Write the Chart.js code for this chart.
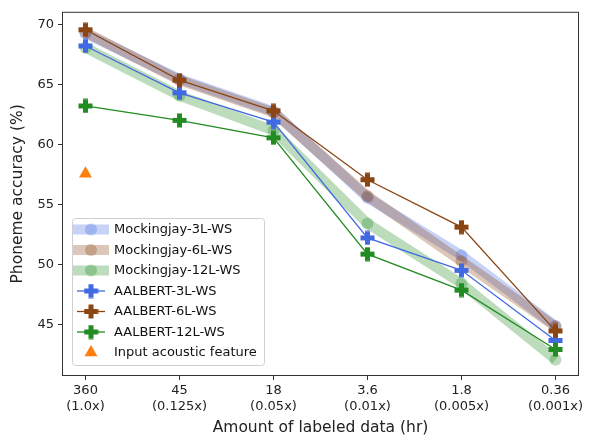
<!DOCTYPE html>
<html>
<head>
<meta charset="utf-8">
<script src="https://cdn.jsdelivr.net/npm/chart.js@4/dist/chart.umd.min.js"></script>
<style>
  html, body { margin: 0; padding: 0; background: #fff; }
  #wrap { width: 598px; height: 440px; }
</style>
</head>
<body>
<div id="wrap"><canvas id="accChart" width="598" height="440"></canvas></div>
<script>
// tick labels of the x axis
const hours = ['360', '45', '18', '3.6', '1.8', '0.36'];
const ratios = ['(1.0x)', '(0.125x)', '(0.05x)', '(0.01x)', '(0.005x)', '(0.001x)'];
const yTicks = [45, 50, 55, 60, 65, 70];

// phoneme accuracy (%)
const mockingjay3L = [69.3, 65.5, 62.8, 55.6, 50.8, 44.9];
const mockingjay6L = [69.4, 65.4, 62.7, 55.75, 50.3, 44.85];
const mockingjay12L = [68.1, 64.1, 61.2, 53.45, 48.45, 42.1];
const aalbert3L = [68.25, 64.35, 61.9, 52.25, 49.55, 43.7];
const aalbert6L = [69.6, 65.4, 62.85, 57.1, 53.15, 44.5];
const aalbert12L = [63.25, 62.05, 60.6, 50.9, 47.9, 42.95];
const inputFeature = [57.6];

const FONT = "'DejaVu Sans', sans-serif";

function toPoints(values) {
    return values.map((v, i) => ({ x: i, y: v }));
}

function rgba(rgb, a) {
    return 'rgba(' + rgb.join(',') + ',' + a + ')';
}

// filled plus marker (like matplotlib 'P')
function plusMarker(color) {
    const c = document.createElement('canvas');
    c.width = 15;
    c.height = 15;
    const g = c.getContext('2d');
    g.fillStyle = color;
    g.fillRect(5, 0.5, 5, 14);
    g.fillRect(0.5, 5, 14, 5);
    return c;
}

const BLUE = [65, 105, 225];
const BROWN = [139, 69, 19];
const GREEN = [34, 139, 34];

function bandSet(label, values, rgb, order) {
    return {
        label: label,
        kind: 'band',
        rgb: rgb,
        data: toPoints(values),
        borderColor: rgba(rgb, 0.3),
        backgroundColor: rgba(rgb, 0.3),
        borderWidth: 10,
        pointRadius: 6,
        pointBorderWidth: 0,
        pointBackgroundColor: rgba(rgb, 0.3),
        borderCapStyle: 'butt',
        tension: 0,
        order: order
    };
}

function lineSet(label, values, rgb, order) {
    const col = rgba(rgb, 1);
    return {
        label: label,
        kind: 'line',
        rgb: rgb,
        marker: plusMarker(col),
        data: toPoints(values),
        borderColor: col,
        backgroundColor: col,
        borderWidth: 1.3,
        pointStyle: plusMarker(col),
        pointRadius: 7,
        tension: 0,
        order: order
    };
}

const datasets = [
    bandSet('Mockingjay-3L-WS', mockingjay3L, BLUE, 7),
    bandSet('Mockingjay-6L-WS', mockingjay6L, BROWN, 6),
    bandSet('Mockingjay-12L-WS', mockingjay12L, GREEN, 5),
    lineSet('AALBERT-3L-WS', aalbert3L, BLUE, 4),
    lineSet('AALBERT-6L-WS', aalbert6L, BROWN, 3),
    lineSet('AALBERT-12L-WS', aalbert12L, GREEN, 2),
    {
        label: 'Input acoustic feature',
        kind: 'tri',
        data: toPoints(inputFeature),
        showLine: false,
        pointStyle: 'triangle',
        pointRadius: 7.5,
        pointBorderWidth: 0,
        pointBackgroundColor: '#ff7f0e',
        borderColor: '#ff7f0e',
        backgroundColor: '#ff7f0e',
        order: 1
    }
];

const whiteBg = {
    id: 'whiteBg',
    beforeDraw(chart) {
        const ctx = chart.ctx;
        ctx.save();
        ctx.fillStyle = '#fff';
        ctx.fillRect(0, 0, chart.width, chart.height);
        ctx.restore();
    }
};

const frameBox = {
    id: 'frameBox',
    afterDatasetsDraw(chart) {
        const a = chart.chartArea;
        const ctx = chart.ctx;
        ctx.save();
        ctx.strokeStyle = '#333';
        ctx.lineWidth = 1;
        ctx.strokeRect(a.left + 0.5, a.top + 0.5, a.right - a.left - 1, a.bottom - a.top - 1);
        ctx.restore();
    }
};

// legend drawn inside the axes, lower left
const innerLegend = {
    id: 'innerLegend',
    afterDraw(chart) {
        const ctx = chart.ctx;
        const a = chart.chartArea;
        const x0 = a.left + 10, y0 = 218, w = 192, h = 147;
        ctx.save();
        ctx.fillStyle = 'rgba(255,255,255,0.8)';
        ctx.strokeStyle = '#d0d0d0';
        ctx.lineWidth = 1;
        ctx.beginPath();
        ctx.roundRect(x0 + 0.5, y0 + 0.5, w, h, 3);
        ctx.fill();
        ctx.stroke();

        const hx = x0 + 19;
        chart.data.datasets.forEach((ds, i) => {
            const cy = y0 + 11.5 + i * 20.5;
            if (ds.kind === 'band') {
                ctx.fillStyle = rgba(ds.rgb, 0.3);
                ctx.fillRect(hx - 18, cy - 5, 36, 10);
                ctx.beginPath();
                ctx.arc(hx, cy, 6, 0, Math.PI * 2);
                ctx.fill();
            } else if (ds.kind === 'line') {
                ctx.strokeStyle = rgba(ds.rgb, 1);
                ctx.lineWidth = 1.3;
                ctx.beginPath();
                ctx.moveTo(hx - 14, cy);
                ctx.lineTo(hx + 14, cy);
                ctx.stroke();
                ctx.drawImage(ds.marker, hx - 7.5, cy - 7.5);
            } else {
                ctx.fillStyle = '#ff7f0e';
                const r = 7.5;
                ctx.beginPath();
                ctx.moveTo(hx, cy - r);
                ctx.lineTo(hx + r * 0.866, cy + r / 2);
                ctx.lineTo(hx - r * 0.866, cy + r / 2);
                ctx.closePath();
                ctx.fill();
            }
            ctx.fillStyle = '#111';
            ctx.font = '13px ' + FONT;
            ctx.textBaseline = 'middle';
            ctx.textAlign = 'left';
            ctx.fillText(ds.label, x0 + 42, cy + 0.5);
        });
        ctx.restore();
    }
};

new Chart(document.getElementById('accChart').getContext('2d'), {
    type: 'line',
    data: { datasets: datasets },
    options: {
        responsive: false,
        animation: false,
        devicePixelRatio: 1,
        layout: { padding: { top: 5, right: 19, left: 0, bottom: 0 } },
        plugins: {
            legend: { display: false },
            tooltip: { enabled: false }
        },
        scales: {
            x: {
                type: 'linear',
                min: -0.25,
                max: 5.25,
                afterBuildTicks: function(scale) {
                    scale.ticks = hours.map((h, i) => ({ value: i }));
                },
                afterFit: function(scale) { scale.height = 64; },
                grid: { drawOnChartArea: false, drawTicks: true, tickLength: 4, color: '#333' },
                border: { display: false },
                ticks: {
                    color: '#222',
                    padding: 3,
                    maxRotation: 0,
                    autoSkip: false,
                    font: { family: FONT, size: 13, lineHeight: 1.2 },
                    callback: function(value) {
                        return [hours[value], ratios[value]];
                    }
                },
                title: {
                    display: true,
                    text: 'Amount of labeled data (hr)',
                    color: '#222',
                    font: { family: FONT, size: 15.5, lineHeight: 1.2 },
                    padding: { top: 0, bottom: 3 }
                }
            },
            y: {
                min: 40.74,
                max: 71.1,
                afterBuildTicks: function(scale) {
                    scale.ticks = yTicks.map(v => ({ value: v }));
                },
                afterFit: function(scale) { scale.width = 62; },
                grid: { drawOnChartArea: false, drawTicks: true, tickLength: 4, color: '#333' },
                border: { display: false },
                ticks: {
                    color: '#222',
                    padding: 4,
                    font: { family: FONT, size: 13 }
                },
                title: {
                    display: true,
                    text: 'Phoneme accuracy (%)',
                    color: '#222',
                    font: { family: FONT, size: 15.5, lineHeight: 1.2 },
                    padding: { top: 9, bottom: 0 }
                }
            }
        }
    },
    plugins: [whiteBg, frameBox, innerLegend]
});
</script>
</body>
</html>
